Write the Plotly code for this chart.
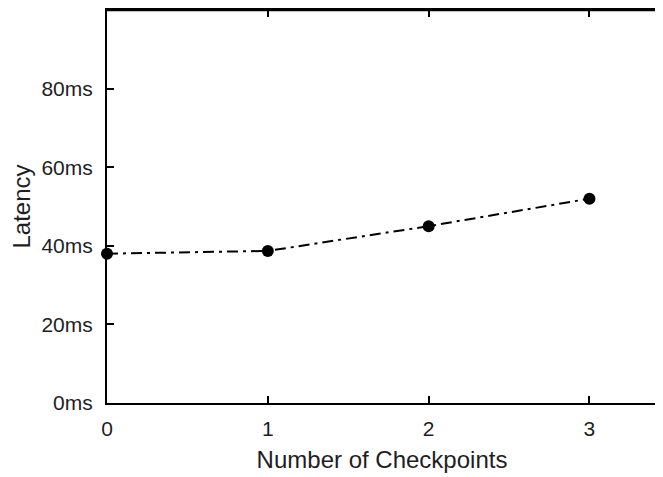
import plotly.graph_objects as go

checkpoints = [0, 1, 2, 3]
latency_ms = [38, 38.7, 45, 52]
y_ticks = [0, 20, 40, 60, 80]
y_tick_labels = ["0ms", "20ms", "40ms", "60ms", "80ms"]
x_ticks = [0, 1, 2, 3]

font = dict(family="Liberation Sans, Arial, sans-serif", size=21, color="#1e1e24")

fig = go.Figure()
fig.add_trace(go.Scatter(
    x=checkpoints, y=latency_ms, mode="lines+markers",
    line=dict(color="black", width=2, dash="11px,5px,3px,5px"),
    marker=dict(color="black", size=12),
    cliponaxis=False, showlegend=False,
))

# page has an 8px body margin, compensate in the figure size/margins
fig.update_layout(
    width=655, height=471,
    margin=dict(l=99, r=6, t=2, b=76, autoexpand=False),
    paper_bgcolor="white", plot_bgcolor="white",
    font=font,
    xaxis=dict(
        range=[0, 3.42], tickvals=x_ticks, ticktext=[str(v) for v in x_ticks],
        ticks="inside", ticklen=7, tickwidth=2, tickcolor="black",
        showline=True, linecolor="black", linewidth=2, mirror="ticks",
        showgrid=False, zeroline=False, ticklabelstandoff=6,
        title=dict(text="Number of Checkpoints", font=dict(size=24), standoff=12),
        automargin=False,
    ),
    yaxis=dict(
        range=[0, 100], tickvals=y_ticks, ticktext=y_tick_labels,
        ticks="inside", ticklen=7, tickwidth=2, tickcolor="black",
        showline=True, linecolor="black", linewidth=2, mirror=False,
        showgrid=False, zeroline=False, ticklabelstandoff=8,
        title=dict(text="Latency", font=dict(size=24), standoff=4),
        automargin=False,
    ),
)

fig.add_shape(type="line", xref="paper", yref="paper", x0=0, x1=1, y0=1, y1=1,
              line=dict(color="black", width=2.5), layer="above")
fig.add_shape(type="line", xref="paper", yref="paper", x0=1, x1=1, y0=0, y1=1,
              line=dict(color="#d8d8d8", width=1.5))

fig.write_html("out.html", config={"displayModeBar": False})
